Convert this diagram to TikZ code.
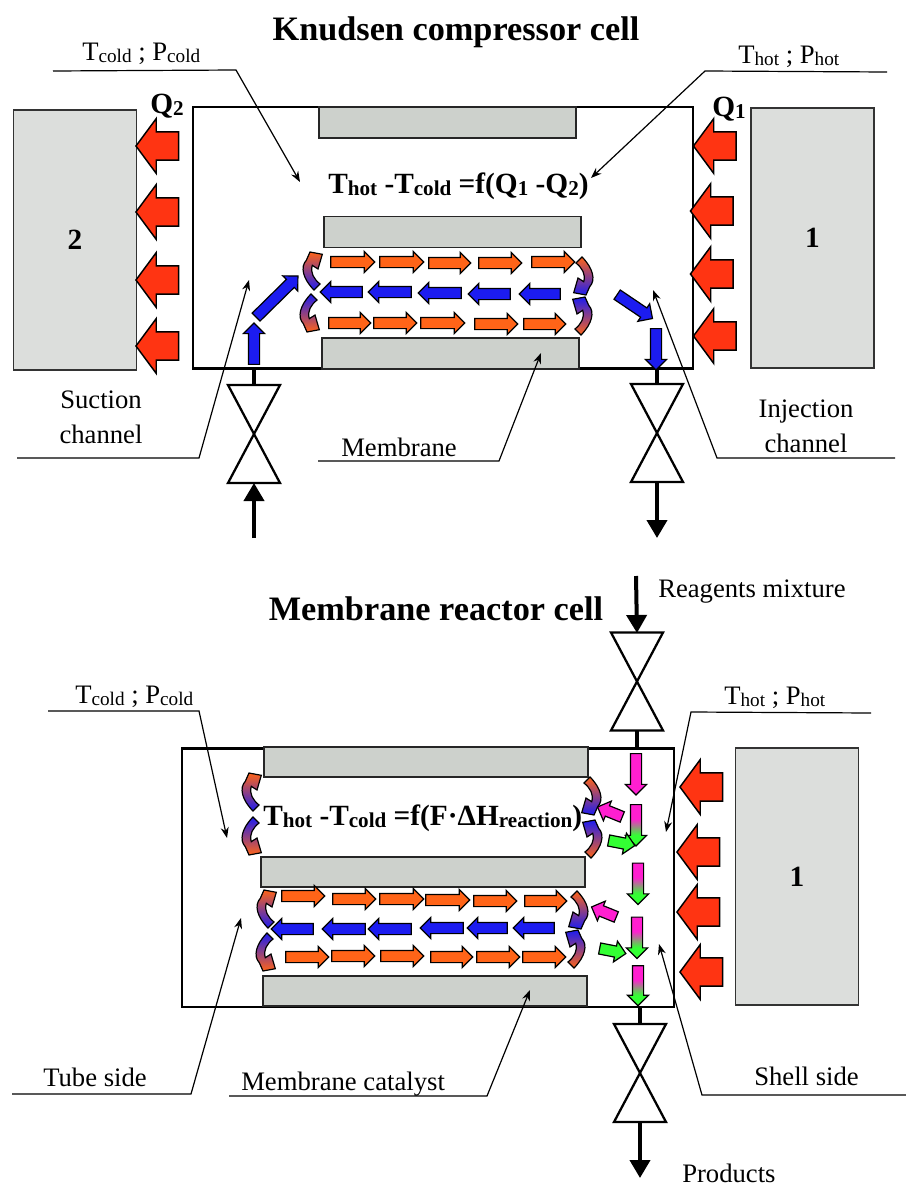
\documentclass[tikz,border=0pt]{standalone}
\usepackage{fontspec}
\setmainfont{Liberation Serif}
\usepackage{tikz}
\usetikzlibrary{arrows.meta,shapes.arrows}
\definecolor{heatergray}{HTML}{DCDEDC}
\definecolor{plategray}{HTML}{CDD1CC}
\definecolor{heatred}{HTML}{FF3412}
\definecolor{floworange}{HTML}{FF6418}
\definecolor{flowblue}{HTML}{1C1CF0}
\definecolor{flowpink}{HTML}{FF1FD0}
\definecolor{flowgreen}{HTML}{33FF33}
\pgfdeclareverticalshading{pinkgreen}{100bp}{color(0bp)=(flowgreen); color(38bp)=(flowgreen); color(58bp)=(flowpink); color(100bp)=(flowpink)}
\newcommand{\lo}[1]{\raisebox{-.1em}{\scalebox{.72}{#1}}}
\newcommand{\bendpath}{(-3,3) .. controls (-14,-8) and (-17,-20) .. (-10.7,-26.7) -- (-7,-35) -- (5.3,-32.7) -- (1,-18) -- (-4.7,-21.7) .. controls (-7,-14) and (-3,-8) .. (3,-3) -- cycle}
\tikzset{
  cell/.style={draw,line width=2pt,inner sep=0pt},
  kcell/.style={cell,minimum width=375pt,minimum height=196pt},
  rcell/.style={cell,minimum width=369pt,minimum height=194pt},
  heater/.style={draw=black!80,fill=heatergray,line width=1.1pt,inner sep=0pt,minimum width=92.5pt,minimum height=195pt,font=\bfseries\fontsize{22}{26}\selectfont},
  kplate/.style={draw=black!85,fill=plategray,line width=1.1pt,inner sep=0pt,minimum width=193pt,minimum height=23pt},
  rplate/.style={kplate,minimum width=243pt,minimum height=22.5pt},
  flowarrow/.style={single arrow,draw=black,line width=.9pt,inner xsep=0pt,inner ysep=3.75pt,outer sep=0pt,single arrow head extend=3.75pt,single arrow tip angle=90},
  hotflow/.style={flowarrow,fill=floworange},
  coldflow/.style={flowarrow,fill=flowblue},
  pinkflow/.style={flowarrow,fill=flowpink},
  greenflow/.style={flowarrow,fill=flowgreen},
  mixflow/.style={flowarrow,shading=pinkgreen,shading angle=0},
  heatflow/.style={single arrow,draw=black,fill=heatred,line width=1.1pt,inner xsep=0pt,inner ysep=10pt,outer sep=0pt,single arrow head extend=10pt,single arrow tip angle=107,minimum height=32pt,rotate=180},
  bendflow/.style={draw=black,line width=.9pt,line join=miter},
  bendhead/.style={bendflow,top color=floworange,bottom color=flowblue},
  bendtail/.style={bendflow,top color=flowblue,bottom color=floworange},
  valvebody/.style={draw,fill=white,line width=1.7pt},
  pipe/.style={draw,line width=3pt},
  pipeout/.style={pipe,-{Triangle[width=15pt,length=13.5pt]}},
  leader/.style={draw,line width=.9pt,-{Stealth[length=8pt,width=6pt]}},
  tag/.style={inner sep=0pt,font=\fontsize{20}{26}\selectfont,align=center},
  formula/.style={inner sep=0pt,font=\bfseries\fontsize{22}{26}\selectfont},
  celltitle/.style={inner sep=0pt,font=\bfseries\fontsize{25.7}{30}\selectfont}
}
\begin{document}
\begin{tikzpicture}[x=.75pt,y=-.75pt]
    \useasboundingbox (0,0) rectangle (906,1185);
    %cells
    \node[kcell] (kcell) at (443,237.5) {};
    \node[rcell] (rcell) at (428,877.5) {};
    \node[heater] (heaterB) at (75,240) {2};
    \node[heater] (heaterA) at (812.5,238) {1};
    \node[heater,minimum height=193pt] (heaterC) at (797,876.5) {1};
    %plates
    \node[kplate] (kplateA) at (447.5,122.5) {};
    \node[kplate] (kplateB) at (452.5,232) {};
    \node[kplate] (kplateC) at (450.5,353.5) {};
    \node[rplate] (rplateA) at (426,762) {};
    \node[rplate] (rplateB) at (423,872) {};
    \node[rplate] (rplateC) at (425,991) {};
    %heat
    \foreach \xx/\yy [count=\i] in {162.5/146,162.5/212,162.5/280,162.5/346,720/146,717/211,717/274,720/336,706.5/787,703.5/852,703.5/912,706.5/972}
      \node[heatflow] (heat\i) at (\xx,\yy) {};
    %rows of small arrows
    \foreach \xa/\xb/\yy [count=\i] in {328/372/262,377/421/262,426/468/263,476/519/263,529/572/262,326/368/323,371/414/323,418/462/323,472/515/324,521/563/324,279/322/896,330/373/899,377/421/899,423/467/900,471/514/901,522/564/901,283/326/957,329/372/956,378/421/956,428/470/957,474/517/957,520/563/957}
      \node[hotflow,minimum height={(\xb-\xa)*.75pt}] (hot\i) at ({(\xa+\xb)/2},\yy) {};
    \foreach \xa/\xb/\yy [count=\i] in {323/365/292,371/414/292,421/464/293,471/513/294,522/563/294,274/316/929,325/368/929,371/414/929,423/466/928,470/510/928,516/557/928}
      \node[coldflow,rotate=180,minimum height={(\xb-\xa)*.75pt}] (cold\i) at ({(\xa+\xb)/2},\yy) {};
    %inlet and outlet of the compressor
    \node[coldflow,rotate=90,minimum height=31pt] (inA) at (254,346.5) {};
    \node[coldflow,rotate=44.5,minimum height=44pt] (inB) at (275,298.5) {};
    \node[coldflow,rotate=-34,minimum height=32pt] (outA) at (632.5,305) {};
    \node[coldflow,rotate=-90,minimum height=31pt] (outB) at (656,346.5) {};
    %reactor side arrows
    \node[pinkflow,rotate=-90,minimum height=31pt] (feedA) at (636,771.5) {};
    \node[mixflow,rotate=-90,minimum height=31pt] (feedB) at (636,822.5) {};
    \node[mixflow,rotate=-90,minimum height=31pt] (feedC) at (638,881) {};
    \node[mixflow,rotate=-90,minimum height=31pt] (feedD) at (637,935) {};
    \node[mixflow,rotate=-90,minimum height=30pt] (feedE) at (638,983) {};
    \node[pinkflow,rotate=158,minimum height=20pt] (sideA) at (612.5,813) {};
    \node[greenflow,rotate=-11,minimum height=20pt] (sideB) at (619,842.5) {};
    \node[pinkflow,rotate=158,minimum height=20pt] (sideC) at (606.5,913) {};
    \node[greenflow,rotate=-11,minimum height=20pt] (sideD) at (610,950.5) {};
    %bent arrows
    \foreach \xx/\yy in {317/287,256/808,271/925}
      \path[bendhead,shift={(\xx,\yy)}] \bendpath;
    \foreach \xx/\yy in {314/297,256/820,270/936}
      \path[bendtail,shift={(\xx,\yy)},yscale=-1] \bendpath;
    \foreach \xx/\yy in {579/260,587/780,574/894}
      \path[bendhead,shift={(\xx,\yy)},rotate=180] \bendpath;
    \foreach \xx/\yy in {578/332,588/855,571/965}
      \path[bendtail,shift={(\xx,\yy)},rotate=180,yscale=-1] \bendpath;
    %valves
    \coordinate (valveAtop) at (254,385);
    \coordinate (valveAbot) at (254,483);
    \coordinate (valveBtop) at (657,384);
    \coordinate (valveBbot) at (657,482);
    \coordinate (valveCtop) at (637,633);
    \coordinate (valveCbot) at (637,730);
    \coordinate (valveDtop) at (640,1024);
    \coordinate (valveDbot) at (640,1122);
    \coordinate (suction) at (254,538);
    \coordinate (discharge) at (657,538);
    \coordinate (reagents) at (636,576);
    \coordinate (products) at (640,1178);
    \path[pipe] (kcell.south -| valveAtop) -- (valveAtop);
    \path[pipe] (kcell.south -| valveBtop) -- (valveBtop);
    \path[pipe] (valveCbot) -- (rcell.north -| valveCbot);
    \path[pipe] (rcell.south -| valveDtop) -- (valveDtop);
    \foreach \xx/\yy in {254/434,657/433,637/681.5,640/1073}
      \path[valvebody,shift={(\xx,\yy)}] (-26,-49) -- (26,-49) -- (-26,49) -- (26,49) -- cycle;
    \path[pipeout] (suction) -- (valveAbot);
    \path[pipeout] (valveBbot) -- (discharge);
    \path[pipeout] (reagents) -- (valveCtop);
    \path[pipeout] (valveDbot) -- (products);
    %titles and labels
    \node[celltitle,anchor=base] (ktitle) at (456,40) {Knudsen compressor cell};
    \node[celltitle,anchor=base] (rtitle) at (436,620) {Membrane reactor cell};
    \node[formula,anchor=base west] (kformula) at (328,193) {T\lo{hot} -T\lo{cold} =f(Q\lo{1} -Q\lo{2})};
    \node[formula,anchor=base west] (rformula) at (263,825) {T\lo{hot} -T\lo{cold} =f(F·ΔH\lo{reaction})};
    \node[formula,anchor=base west] (qB) at (150,113) {Q\lo{2}};
    \node[formula,anchor=base west] (qA) at (712,116) {Q\lo{1}};
    \node[tag,anchor=base west] (kcold) at (82,60) {T\lo{cold} ; P\lo{cold}};
    \node[tag,anchor=base west] (khot) at (738,63) {T\lo{hot} ; P\lo{hot}};
    \node[tag,anchor=base west] (rcold) at (75,703) {T\lo{cold} ; P\lo{cold}};
    \node[tag,anchor=base west] (rhot) at (724,704) {T\lo{hot} ; P\lo{hot}};
    \node[tag] (suctionch) at (101,417) {Suction\\channel};
    \node[tag] (injectionch) at (806,426) {Injection\\channel};
    \node[tag,anchor=base west] (membrane) at (341,456) {Membrane};
    \node[tag,anchor=base west] (reagentstag) at (658,597) {Reagents mixture};
    \node[tag,anchor=base west] (tubeside) at (43,1086) {Tube side};
    \node[tag,anchor=base west] (catalyst) at (241,1090) {Membrane catalyst};
    \node[tag,anchor=base west] (shellside) at (754,1085) {Shell side};
    \node[tag,anchor=base west] (productstag) at (682,1182) {Products};
    %leaders
    \coordinate (a1) at (53,71);    \coordinate (a2) at (236,70);   \coordinate (a3) at (300,182);
    \coordinate (b1) at (887,72);   \coordinate (b2) at (705,71);   \coordinate (b3) at (591,178);
    \coordinate (c1) at (17,458);   \coordinate (c2) at (199,458);  \coordinate (c3) at (249,280);
    \coordinate (d1) at (318,461);  \coordinate (d2) at (499,461);  \coordinate (d3) at (541,353);
    \coordinate (e1) at (895,458);  \coordinate (e2) at (717,458);  \coordinate (e3) at (653,290);
    \coordinate (f1) at (48,711);   \coordinate (f2) at (199,711);  \coordinate (f3) at (227,838);
    \coordinate (g1) at (871,713);  \coordinate (g2) at (691,712);  \coordinate (g3) at (666,832);
    \coordinate (h1) at (12,1094);  \coordinate (h2) at (191,1094); \coordinate (h3) at (241,918);
    \coordinate (i1) at (229,1096); \coordinate (i2) at (487,1096); \coordinate (i3) at (530,990);
    \coordinate (j1) at (906,1095); \coordinate (j2) at (702,1095); \coordinate (j3) at (659,944);
    \foreach \ld in {a,b,c,d,e,f,g,h,i,j}
      \path[leader] (\ld1) -- (\ld2) -- (\ld3);
\end{tikzpicture}
\end{document}
